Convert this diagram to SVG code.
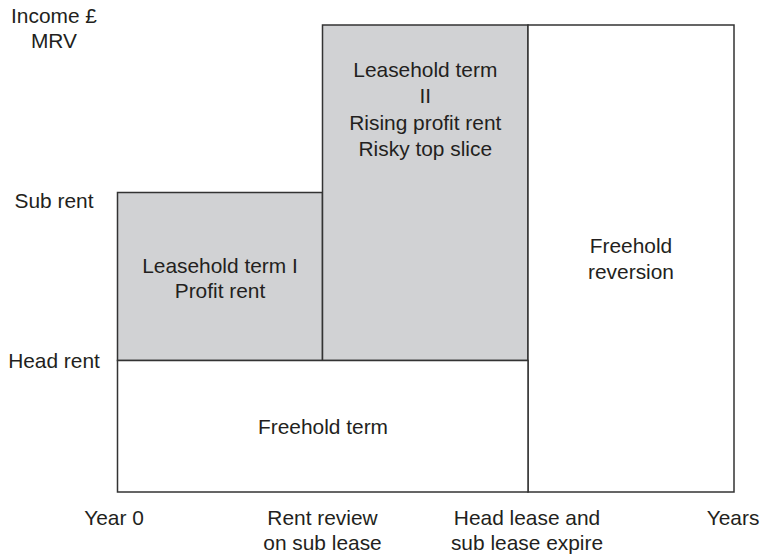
<svg xmlns="http://www.w3.org/2000/svg" width="764" height="556" viewBox="0 0 764 556">
  <style>
    .lbl { font-family: "Liberation Sans", Arial, sans-serif; font-size: 20.9px; fill: #231f20; text-anchor: middle; }
    .box { stroke: #333333; stroke-width: 1.5; }
    .lease { fill: #d1d2d4; }
    .free { fill: #ffffff; }
  </style>
  <rect width="764" height="556" fill="#ffffff"/>

  <!-- Axis labels -->
  <g id="axis-y">
    <text class="lbl" x="54" y="23">Income £</text>
    <text class="lbl" x="54" y="48">MRV</text>
    <text class="lbl" x="54" y="208">Sub rent</text>
    <text class="lbl" x="54" y="368">Head rent</text>
  </g>
  <g id="axis-x">
    <text class="lbl" x="114" y="525">Year 0</text>
    <text class="lbl" x="322.5" y="525">Rent review</text>
    <text class="lbl" x="322.5" y="550">on sub lease</text>
    <text class="lbl" x="527" y="525">Head lease and</text>
    <text class="lbl" x="527" y="550">sub lease expire</text>
    <text class="lbl" x="733" y="525">Years</text>
  </g>

  <!-- Income blocks -->
  <g id="leasehold-term-1">
    <rect class="box lease" x="117.5" y="192.5" width="205" height="168"/>
    <text class="lbl" x="220" y="272.5">Leasehold term I</text>
    <text class="lbl" x="220" y="297.5">Profit rent</text>
  </g>
  <g id="leasehold-term-2">
    <rect class="box lease" x="322.5" y="25" width="205.5" height="335.5"/>
    <text class="lbl" x="425.3" y="76.5">Leasehold term</text>
    <text class="lbl" x="425.3" y="103">II</text>
    <text class="lbl" x="425.3" y="129.5">Rising profit rent</text>
    <text class="lbl" x="425.3" y="156">Risky top slice</text>
  </g>
  <g id="freehold-reversion">
    <rect class="box free" x="528" y="25" width="206" height="467"/>
    <text class="lbl" x="631" y="252.5">Freehold</text>
    <text class="lbl" x="631" y="279">reversion</text>
  </g>
  <g id="freehold-term">
    <rect class="box free" x="117.5" y="360.5" width="410.5" height="131.5"/>
    <text class="lbl" x="323" y="433.5">Freehold term</text>
  </g>

  <!-- No connectors in this chart -->
  <g id="connectors"/>
</svg>
